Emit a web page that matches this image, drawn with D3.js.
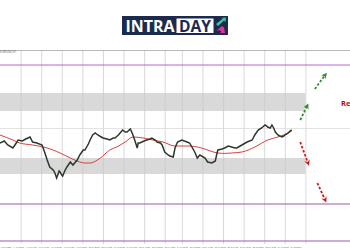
<!DOCTYPE html>
<html>
<head>
<meta charset="utf-8">
<script src="https://cdn.jsdelivr.net/npm/d3@7"></script>
<style>
	html,body{margin:0;padding:0;background:#fff;}
	svg{display:block;font-family:"Open Sans",sans-serif;}
</style>
</head>
<body>
<div id="chart"></div>
<script>

// price series, [hour, price]
const price=[[0,1.1485],[5,1.1495],[9,1.1475],[15,1.1460],[19,1.1485],[21,1.1500],[26,1.1495],[30,1.1505],[35,1.1515],[38,1.1490],[43,1.1485],[49,1.1475],[52,1.1440],[55,1.1400],[58,1.1365],[62,1.1350],[64,1.1335],[66,1.1310],[69,1.1345],[70,1.1340],[72,1.1325],[73,1.1320],[76,1.1350],[78,1.1365],[82,1.1390],[85,1.1375],[90,1.1400],[93,1.1425],[97,1.1450],[99,1.1450],[103,1.1480],[105,1.1500],[108,1.1525],[111,1.1535],[114,1.1525],[118,1.1515],[120,1.1510],[125,1.1505],[128,1.1500],[132,1.1510],[134,1.1510],[138,1.1525],[140,1.1535],[143,1.1550],[146,1.1540],[148,1.1540],[152,1.1555],[155,1.1525],[157,1.1500],[160,1.1460],[161,1.1485],[163,1.1485],[168,1.1495],[171,1.1500],[175,1.1505],[177,1.1510],[181,1.1500],[183,1.1490],[187,1.1485],[189,1.1475],[192,1.1440],[196,1.1425],[198,1.1420],[202,1.1415],[204,1.1460],[207,1.1490],[212,1.1500],[218,1.1490],[221,1.1485],[227,1.1440],[230,1.1410],[233,1.1425],[239,1.1410],[242,1.1390],[247,1.1385],[251,1.1395],[253,1.1435],[254,1.1450],[259,1.1455],[262,1.1460],[266,1.1470],[270,1.1465],[274,1.1460],[276,1.1460],[280,1.1470],[282,1.1475],[286,1.1485],[288,1.1490],[291,1.1495],[294,1.1500],[297,1.1525],[301,1.1550],[303,1.1555],[305,1.1560],[309,1.1575],[311,1.1570],[312,1.1565],[315,1.1560],[317,1.1575],[319,1.1560],[321,1.1540],[324,1.1525],[326,1.1520],[329,1.1515],[331,1.1520],[332,1.1525],[336,1.1535],[338,1.1545],[340,1.1550]];

// moving average
const movingAvg=[[0,1.1525],[15,1.1500],[23,1.1485],[38,1.1475],[55,1.1460],[62,1.1450],[70,1.1435],[82,1.1410],[93,1.1390],[99,1.1385],[105,1.1385],[117,1.1410],[128,1.1450],[136,1.1465],[146,1.1490],[155,1.1515],[167,1.1510],[178,1.1500],[190,1.1490],[204,1.1470],[219,1.1470],[235,1.1460],[245,1.1445],[254,1.1435],[262,1.1433],[270,1.1435],[282,1.1440],[297,1.1465],[312,1.1500],[324,1.1515],[336,1.1535],[340,1.1545]];

const zones=[[1.1645,1.1735],[1.1330,1.1410]];
const zoneEnd=356;
const purpleLevels=[1.1875,1.1180,1.0995];
const gridPrices=[1.1950,1.1560];
const gridHours=[24,48,72,96,120,144,168,192,212,236,260,284,308,332,356];

const upArrows=[[[350,1.1600],[358,1.1670]],[[367,1.1755],[379,1.1825]]];
const downArrows=[[[350,1.1490],[359,1.1385]],[[370,1.1285],[379,1.1200]]];

const tickLabels=["13 Jul 2020","14 Jul 06:00","14 Jul 21:00","15 Jul 12:00","16 Jul 03:00","16 Jul 18:00","17 Jul 09:00","20 Jul 00:00","20 Jul 15:00","21 Jul 06:00","21 Jul 21:00","22 Jul 12:00","23 Jul 03:00","23 Jul 18:00","24 Jul 09:00","27 Jul 00:00","27 Jul 15:00","28 Jul 06:00","28 Jul 21:00","29 Jul 12:00","30 Jul 03:00","30 Jul 18:00","31 Jul 09:00","3 Aug 00:00"];

const width=350, height=250;

const svg=d3.select("#chart").append("svg")
	.attr("width",width)
	.attr("height",height);

const x=d3.scaleLinear().domain([0,408]).range([0,350]);
const y=d3.scaleLinear().domain([1.0995,1.1950]).range([241,50]);

// zones
svg.selectAll(".zone").data(zones).enter().append("rect")
	.attr("x",x(0))
	.attr("width",x(zoneEnd)-x(0))
	.attr("y",d=>y(d[1]))
	.attr("height",d=>y(d[0])-y(d[1]))
	.attr("fill","#d9d9d9");

// grid
svg.selectAll(".vgrid").data(gridHours).enter().append("line")
	.attr("x1",d=>x(d)+0.5).attr("x2",d=>x(d)+0.5)
	.attr("y1",50).attr("y2",244)
	.attr("stroke","#c8c8c8").attr("stroke-width",0.7);

svg.selectAll(".hgrid").data(gridPrices).enter().append("line")
	.attr("x1",0).attr("x2",width)
	.attr("y1",d=>Math.round(y(d))+0.5).attr("y2",d=>Math.round(y(d))+0.5)
	.attr("stroke",(d,i)=>i==0?"#a8a8a8":"#dcdcdc").attr("stroke-width",0.8);

svg.selectAll(".level").data(purpleLevels).enter().append("line")
	.attr("x1",0).attr("x2",width)
	.attr("y1",d=>y(d)).attr("y2",d=>y(d))
	.attr("stroke",(d,i)=>i==0?"#b866d8":"#9a5cb4").attr("stroke-width",1.1);

// lines
const line=d3.line().x(d=>x(d[0])).y(d=>y(d[1]));

svg.append("path").datum(movingAvg)
	.attr("d",line.curve(d3.curveMonotoneX))
	.attr("fill","none").attr("stroke","#d8403f").attr("stroke-width",1);

svg.append("path").datum(price)
	.attr("d",d3.line().x(d=>x(d[0])).y(d=>y(d[1])))
	.attr("fill","none").attr("stroke","#2d382d").attr("stroke-width",1.5);

// arrows
const defs=svg.append("defs");
[["up","#2e8b36"],["down","#cc1a1a"]].forEach(m=>{
	defs.append("marker")
		.attr("id","head-"+m[0])
		.attr("viewBox","0 0 10 10")
		.attr("refX",5).attr("refY",5)
		.attr("markerWidth",3.2).attr("markerHeight",3.2)
		.attr("orient","auto")
		.append("path")
			.attr("d","M0,0 L10,5 L0,10 L3,5 Z")
			.attr("fill",m[1]);
});

svg.selectAll(".up").data(upArrows).enter().append("path")
	.attr("d",d=>line.curve(d3.curveLinear)(d))
	.attr("fill","none").attr("stroke","#2e8b36").attr("stroke-width",1.8)
	.attr("stroke-dasharray","2.5,1.8")
	.attr("marker-end","url(#head-up)");

svg.selectAll(".down").data(downArrows).enter().append("path")
	.attr("d",d=>line.curve(d3.curveLinear)(d))
	.attr("fill","none").attr("stroke","#cc1a1a").attr("stroke-width",1.8)
	.attr("stroke-dasharray","2.5,1.8")
	.attr("marker-end","url(#head-down)");

svg.append("text")
	.attr("x",341).attr("y",105.5)
	.attr("font-size",7.5).attr("font-weight",700)
	.attr("fill","#b01010")
	.text("Resistance");

// axis labels
const tx=d3.scalePoint().domain(tickLabels).range([0,290]);
svg.selectAll(".tick").data(tickLabels).enter().append("text")
	.attr("x",d=>tx(d)+0.5).attr("y",248)
	.attr("font-size",2.4).attr("fill","#555")
	.attr("textLength",10.8).attr("lengthAdjust","spacingAndGlyphs")
	.text(d=>d);

svg.append("text")
	.attr("x",0).attr("y",53)
	.attr("font-size",3).attr("fill","#555")
	.text("EURUSD,H1");

// logo
const logo=svg.append("g");
logo.append("rect").attr("x",122).attr("y",16).attr("width",106).attr("height",19).attr("fill","#1c2b4d");
logo.append("rect").attr("x",176.5).attr("y",18.5).attr("width",37).attr("height",14.5).attr("fill","#fff");
logo.append("text").attr("x",125.5).attr("y",31.5)
	.attr("font-size",16).attr("font-weight",700).attr("fill","#fff")
	.attr("textLength",49).attr("lengthAdjust","spacingAndGlyphs")
	.text("INTRA");
logo.append("text").attr("x",179).attr("y",31.5)
	.attr("font-size",16).attr("font-weight",700).attr("fill","#1c2b4d")
	.attr("textLength",32).attr("lengthAdjust","spacingAndGlyphs")
	.text("DAY");
logo.append("path").attr("d","M216,24 L223,18.5 L221,18 L226,17.5 L225.5,22 L224,20.5 L218,26 Z").attr("fill","#3cc4a0");
logo.append("path").attr("d","M216,31 L222,26 L224,27.5 L225,33 L220,33 L221.5,31.5 L219,30 Z").attr("fill","#e0309c");

</script>
</body>
</html>
